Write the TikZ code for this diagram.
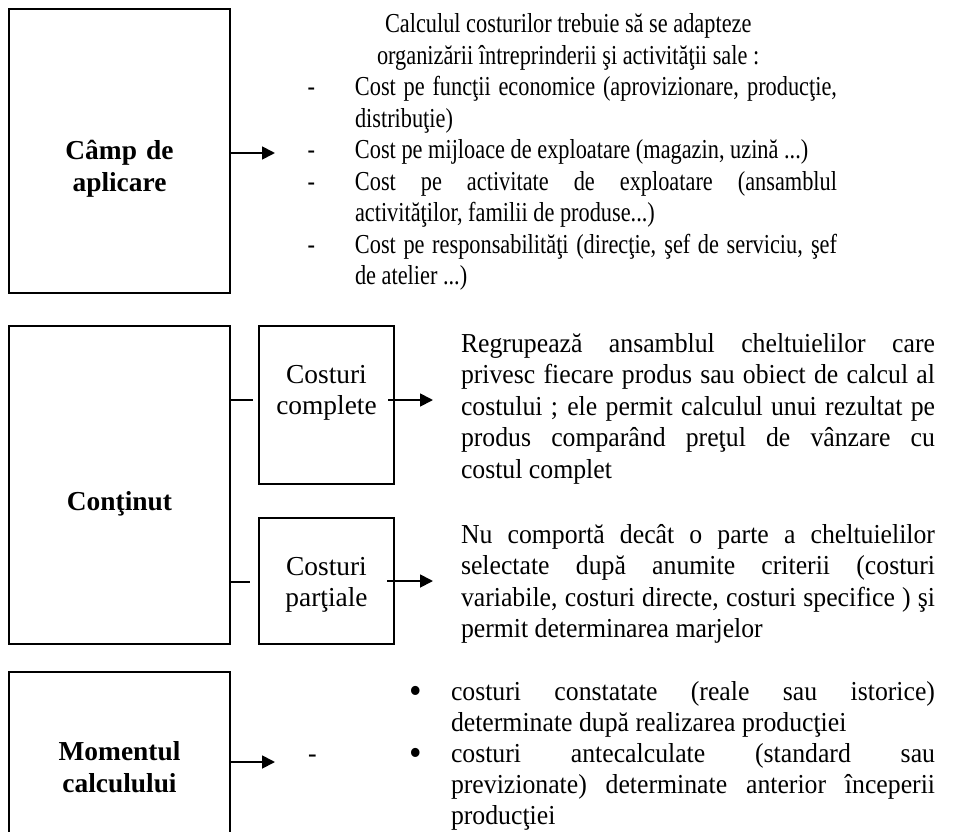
\documentclass[tikz,border=0pt]{standalone}
\usepackage{fontspec}
\setmainfont{Liberation Serif}
\newfontfamily\topfont{Liberation Serif}[FakeStretch=0.815]
\newfontfamily\bodyfont{Liberation Serif}[FakeStretch=0.94]
\usetikzlibrary{arrows.meta}
\tolerance=10000
\hbadness=10000
\hyphenpenalty=10000
\exhyphenpenalty=10000
\newcommand\dashitem{\leavevmode\llap{-\hspace{40pt}}}
\newcommand\bulitem{\leavevmode\llap{\raisebox{-3.5pt}{\fontsize{38}{38}\selectfont •}\hspace{29pt}}}
\tikzset{
  box/.style={draw, line width=2.4pt, inner sep=0pt, outer sep=0pt, anchor=north west},
  lbl/.style={inner sep=0pt, outer sep=0pt, anchor=base, text width=200pt, align=center,
    font=\fontsize{27.4}{32}\selectfont\bfseries},
  sublbl/.style={inner sep=0pt, outer sep=0pt, anchor=base, text width=130pt, align=center,
    font=\fontsize{27.4}{31.5}\selectfont},
  toptxt/.style={inner sep=0pt, outer sep=0pt, anchor=base west,
    font=\topfont\fontsize{27.4}{31.5}\selectfont},
  para/.style={inner sep=0pt, outer sep=0pt, anchor=base west, align=justify},
  conn/.style={line width=1.8pt},
  arr/.style={conn, -{Triangle[length=13pt,width=13pt]}},
}
\begin{document}
\begin{tikzpicture}[x=1pt,y=-1pt]
\useasboundingbox (0,0) rectangle (969,832);
\clip (0,0) rectangle (969,832);
% boxes
\node[box, minimum width=221pt, minimum height=284pt] (b1) at (9,9) {};
\node[box, minimum width=221pt, minimum height=318pt] (b2) at (9,326) {};
\node[box, minimum width=135pt, minimum height=158pt] (s1) at (259,326) {};
\node[box, minimum width=135pt, minimum height=126pt] (s2) at (259,518) {};
\node[box, minimum width=221pt, minimum height=185pt] (b3) at (9,672) {};
% labels
\node[lbl] (l1) at (119.5,160) {Câmp de\\aplicare};
\node[lbl] (l2) at (119.5,510) {Conţinut};
\node[lbl] (l3) at (119.5,760) {Momentul\\calculului};
\node[sublbl] (c1) at (326.5,383) {Costuri\\complete};
\node[sublbl] (c2) at (326.5,575) {Costuri\\parţiale};
% connectors
\coordinate (t1) at (275,153);
\draw[arr] (b1.east |- t1) -- (t1);
\coordinate (m1) at (253,400);
\draw[conn] (b2.east |- m1) -- (m1);
\coordinate (m2) at (250,582);
\draw[conn] (b2.east |- m2) -- (m2);
\coordinate (s1a) at (388,400);
\coordinate (s1b) at (433,400);
\draw[arr] (s1a) -- (s1b);
\coordinate (s2a) at (387,581);
\coordinate (s2b) at (433,581);
\draw[arr] (s2a) -- (s2b);
\coordinate (t3) at (275,762);
\draw[arr] (b3.east |- t3) -- (t3);
% top text
\node[toptxt] (h1) at (385,33) {Calculul costurilor trebuie să se adapteze};
\node[toptxt] (h2) at (377,64.5) {organizării întreprinderii şi activităţii sale :};
\node[para, text width=482pt, font=\topfont\fontsize{27.4}{31.5}\selectfont] (tl) at (355,96)
 {\dashitem Cost pe funcţii economice (aprovizionare, producţie,\linebreak distribuţie)\par
  \dashitem Cost pe mijloace de exploatare (magazin, uzină ...)\par
  \dashitem Cost pe activitate de exploatare (ansamblul\linebreak activităţilor, familii de produse...)\par
  \dashitem Cost pe responsabilităţi (direcţie, şef de serviciu, şef\linebreak de atelier ...)};
% middle text
\node[para, text width=474pt, font=\bodyfont\fontsize{27.4}{31.5}\selectfont] (p1) at (461,352)
 {Regrupează ansamblul cheltuielilor care\linebreak privesc fiecare produs sau obiect de calcul al\linebreak costului ; ele permit calculul unui rezultat pe\linebreak produs comparând preţul de vânzare cu\linebreak costul complet};
\node[para, text width=474pt, font=\bodyfont\fontsize{27.4}{31.5}\selectfont] (p2) at (461,543)
 {Nu comportă decât o parte a cheltuielilor\linebreak selectate după anumite criterii (costuri\linebreak variabile, costuri directe, costuri specifice ) şi\linebreak permit determinarea marjelor};
% bottom text
\node[toptxt, font=\bodyfont\fontsize{27.4}{31}\selectfont] (d3) at (308,762) {-};
\node[para, text width=484pt, font=\bodyfont\fontsize{27.4}{31}\selectfont] (q1) at (451,700)
 {\bulitem costuri constatate (reale sau istorice)\linebreak determinate după realizarea producţiei\par
  \bulitem costuri antecalculate (standard sau\linebreak previzionate) determinate anterior începerii\linebreak producţiei};
\end{tikzpicture}
\end{document}
